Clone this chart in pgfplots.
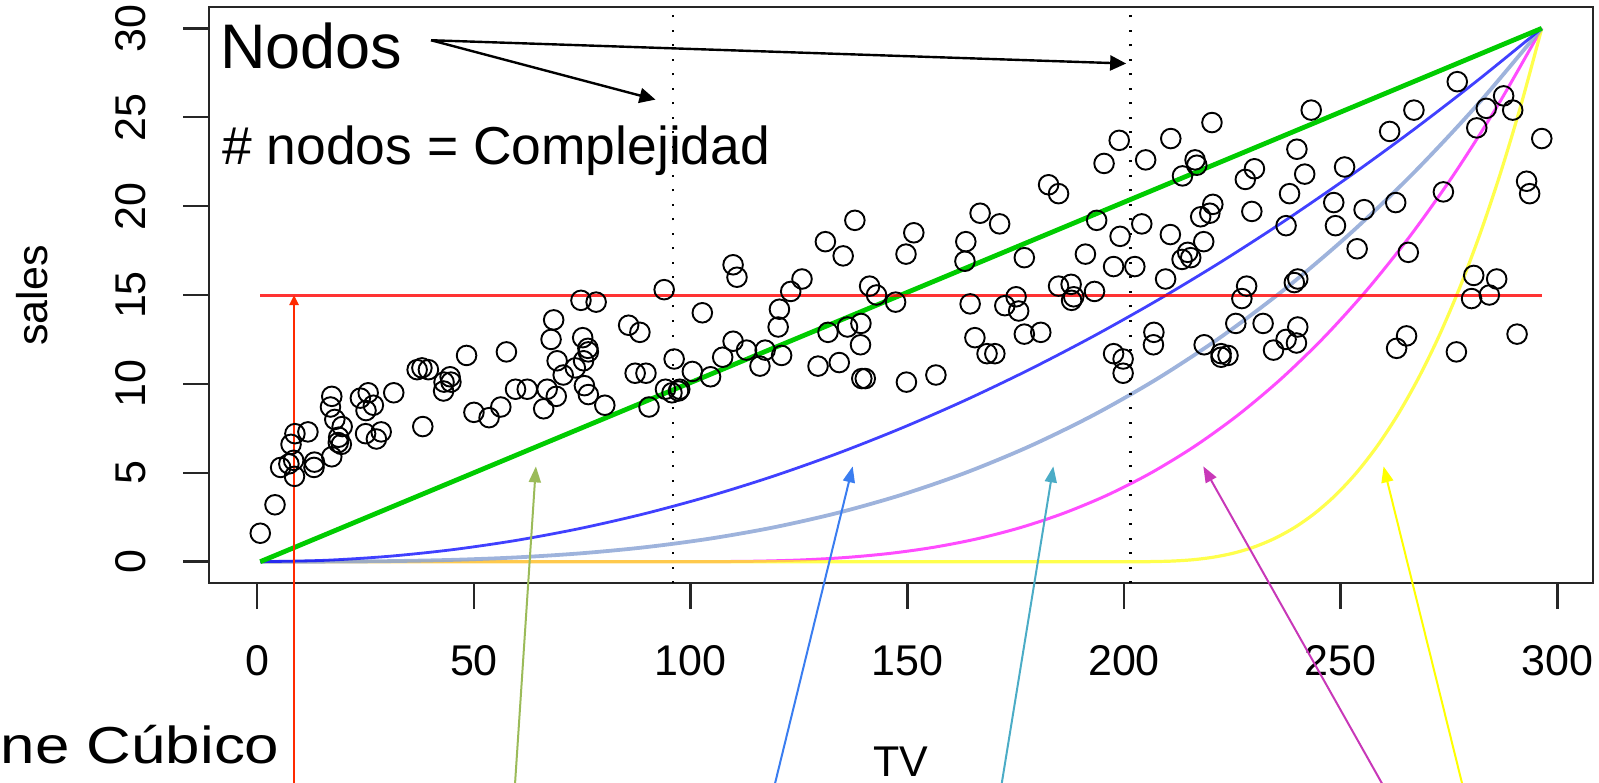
\documentclass[border=0pt]{standalone}
\usepackage{fontspec}
\setmainfont{Liberation Sans}
\usepackage{pgfplots}
\pgfplotsset{compat=1.18}
\usetikzlibrary{arrows.meta}
\definecolor{cgreen}{HTML}{00CC00}
\definecolor{cblue}{HTML}{0000FF}
\definecolor{clblue}{HTML}{8DA6D6}
\definecolor{cmag}{HTML}{FF00FF}
\definecolor{cyel}{HTML}{FFFF00}
\definecolor{cred}{HTML}{FF0000}
\definecolor{aolive}{HTML}{9BBB59}
\definecolor{ablue}{HTML}{3A7DF0}
\definecolor{acyan}{HTML}{4BACC6}
\definecolor{amag}{HTML}{C838B8}
\definecolor{ayel}{HTML}{FFFF00}
\definecolor{ared}{HTML}{FF2A00}
\begin{document}
\begin{tikzpicture}
\clip (0,0) rectangle (799.5pt,391pt);
\begin{axis}[
  at={(104.5pt,99.5pt)}, anchor=south west,
  scale only axis, width=692pt, height=288pt,
  xmin=-11.128, xmax=308.228, ymin=-1.2, ymax=31.2,
  xtick={0,50,...,300}, ytick={0,5,...,30},
  tick pos=left,
  tick align=outside, major tick length=13pt,
  axis line style={line width=1.2pt, black!85},
  every tick/.style={line width=1.2pt, black!85},
  clip=false,
  /pgf/number format/assume math mode=true,
  ticklabel style={font=\fontsize{21.5}{21.5}\selectfont, inner sep=0pt},
  xticklabel style={anchor=north, yshift=-18pt},
  yticklabel style={xshift=-19pt, anchor=base, rotate=90},
]
\addplot[only marks, black, mark=o, mark size=4.9pt, mark options={line width=0.95pt, black}] coordinates {
(230.1,22.1) (44.5,10.4) (17.2,9.3) (151.5,18.5) (180.8,12.9) (8.7,7.2) (57.5,11.8) (120.2,13.2) (8.6,4.8) (199.8,10.6)
(66.1,8.6) (214.7,17.4) (23.8,9.2) (97.5,9.7) (204.1,19.0) (195.4,22.4) (67.8,12.5) (281.4,24.4) (69.2,11.3) (147.3,14.6)
(218.4,18.0) (237.4,12.5) (13.2,5.6) (228.3,15.5) (62.3,9.7) (262.9,12.0) (142.9,15.0) (240.1,15.9) (248.8,18.9) (70.6,10.5)
(292.9,21.4) (112.9,11.9) (97.2,9.6) (265.6,17.4) (95.7,9.5) (290.7,12.8) (266.9,25.4) (74.7,14.7) (43.1,10.1) (228.0,21.5)
(202.5,16.6) (177.0,17.1) (293.6,20.7) (206.9,12.9) (25.1,8.5) (175.1,14.9) (89.7,10.6) (239.9,23.2) (227.2,14.8) (66.9,9.7)
(199.8,11.4) (100.4,10.7) (216.4,22.6) (182.6,21.2) (262.7,20.2) (198.9,23.7) (7.3,5.5) (136.2,13.2) (210.8,23.8) (210.7,18.4)
(53.5,8.1) (261.3,24.2) (239.3,15.7) (102.7,14.0) (131.1,18.0) (69.0,9.3) (31.5,9.5) (139.3,13.4) (237.4,18.9) (216.8,22.3)
(199.1,18.3) (109.8,12.4) (26.8,8.8) (129.4,11.0) (213.4,17.0) (16.9,8.7) (27.5,6.9) (120.5,14.2) (5.4,5.3) (116.0,11.0)
(76.4,11.8) (239.8,12.3) (75.3,11.3) (68.4,13.6) (213.5,21.7) (193.2,15.2) (76.3,12.0) (110.7,16.0) (88.3,12.9) (109.8,16.7)
(134.3,11.2) (28.6,7.3) (217.7,19.4) (250.9,22.2) (107.4,11.5) (163.3,16.9) (197.6,11.7) (184.9,15.5) (289.7,25.4) (135.2,17.2)
(222.4,11.7) (296.4,23.8) (280.2,14.8) (187.9,14.7) (238.2,20.7) (137.9,19.2) (25.0,7.2) (90.4,8.7) (13.1,5.3) (255.4,19.8)
(225.8,13.4) (241.7,21.8) (175.7,14.1) (209.6,15.9) (78.2,14.6) (75.1,12.6) (139.2,12.2) (76.4,9.4) (125.7,15.9) (19.4,6.6)
(141.3,15.5) (18.8,7.0) (224.0,11.6) (123.1,15.2) (229.5,19.7) (87.2,10.6) (7.8,6.6) (80.2,8.8) (220.3,24.7) (59.6,9.7)
(0.7,1.6) (265.2,12.7) (8.4,5.7) (219.8,19.6) (36.9,10.8) (48.3,11.6) (25.6,9.5) (273.7,20.8) (43.0,9.6) (184.9,20.7)
(73.4,10.9) (193.7,19.2) (220.5,20.1) (104.6,10.4) (96.2,11.4) (140.3,10.3) (240.1,13.2) (243.2,25.4) (38.0,10.9) (44.7,10.1)
(280.7,16.1) (121.0,11.6) (197.6,16.6) (171.3,19.0) (187.8,15.6) (4.1,3.2) (93.9,15.3) (149.8,10.1) (11.7,7.3) (131.7,12.9)
(172.5,14.4) (85.7,13.3) (188.4,14.9) (163.5,18.0) (117.2,11.9) (234.5,11.9) (17.9,8.0) (206.8,12.2) (215.4,17.1) (284.3,15.0)
(50.0,8.4) (164.5,14.5) (19.6,7.6) (168.4,11.7) (222.4,11.5) (276.9,27.0) (248.4,20.2) (170.2,11.7) (276.7,11.8) (165.6,12.6)
(156.6,10.5) (218.5,12.2) (56.2,8.7) (287.6,26.2) (253.8,17.6) (205.0,22.6) (139.5,10.3) (191.1,17.3) (286.0,15.9) (18.7,6.7)
(39.5,10.8) (75.5,9.9) (17.2,5.9) (166.8,19.6) (149.7,17.3) (38.2,7.6) (94.2,9.7) (177.0,12.8) (283.6,25.5) (232.1,13.4)
};
% magenta: basis starting at first knot
\addplot[cmag, line width=1.5pt, opacity=0.7, smooth] coordinates {
(0.7,0) (48,0) (96,0) (106.02,0.00375) (116.04,0.03) (126.06,0.10125) (136.08,0.24) (146.1,0.46875) (156.12,0.81)
(166.14,1.28625) (176.16,1.92) (186.18,2.73375) (196.2,3.75) (206.22,4.99125) (216.24,6.48) (226.26,8.23875)
(236.28,10.29) (246.3,12.65625) (256.32,15.36) (266.34,18.42375) (276.36,21.87) (286.38,25.72125) (296.4,30)};
% yellow: basis starting at second knot
\addplot[cyel, line width=1.6pt, opacity=0.7, smooth] coordinates {
(0.7,0) (50,0) (100,0) (150,0) (201.3,0) (206.055,0.00375) (210.81,0.03) (215.565,0.10125) (220.32,0.24) (225.075,0.46875)
(229.83,0.81) (234.585,1.28625) (239.34,1.92) (244.095,2.73375) (248.85,3.75) (253.605,4.99125) (258.36,6.48)
(263.115,8.23875) (267.87,10.29) (272.625,12.65625) (277.38,15.36) (282.135,18.42375) (286.89,21.87) (291.645,25.72125) (296.4,30)};
% light blue: cubic
\addplot[clblue, line width=1.9pt, opacity=0.85, smooth] coordinates {
(0.7,0) (15.485,0.00375) (30.27,0.03) (45.055,0.10125) (59.84,0.24) (74.625,0.46875) (89.41,0.81) (104.195,1.28625)
(118.98,1.92) (133.765,2.73375) (148.55,3.75) (163.335,4.99125) (178.12,6.48) (192.905,8.23875) (207.69,10.29)
(222.475,12.65625) (237.26,15.36) (252.045,18.42375) (266.83,21.87) (281.615,25.72125) (296.4,30)};
% blue: quadratic
\addplot[cblue, line width=1.4pt, opacity=0.75, smooth] coordinates {
(0.7,0) (15.485,0.075) (30.27,0.3) (45.055,0.675) (59.84,1.2) (74.625,1.875) (89.41,2.7) (104.195,3.675) (118.98,4.8)
(133.765,6.075) (148.55,7.5) (163.335,9.075) (178.12,10.8) (192.905,12.675) (207.69,14.7) (222.475,16.875)
(237.26,19.2) (252.045,21.675) (266.83,24.3) (281.615,27.075) (296.4,30)};
% green: linear
\addplot[cgreen, line width=2.4pt] coordinates {(0.7,0) (296.4,30)};
% red constant
\addplot[cred, line width=1.5pt, opacity=0.8] coordinates {(0.7,15) (296.4,15)};
% knots
\addplot[black, line width=1.1pt, dash pattern=on 1pt off 6.25pt] coordinates {(96.0,-1.2) (96.0,31.2)};
\addplot[black, line width=1.1pt, dash pattern=on 1pt off 6.25pt] coordinates {(201.5,-1.2) (201.5,31.2)};
% Nodos arrows
\draw[black, line width=1.2pt, -{Triangle[length=8pt,width=7.5pt]}] (axis cs:40.1,29.33) -- (axis cs:91.9,25.99);
\draw[black, line width=1.2pt, -{Triangle[length=8pt,width=7.5pt]}] (axis cs:40.1,29.33) -- (axis cs:200.5,28.02);
% bottom arrows
\draw[aolive, line width=1pt, -{Triangle[length=8pt,width=6pt]}] (axis cs:59.35,-13) -- (axis cs:64.3,5.36);
\draw[ablue, line width=1pt, -{Triangle[length=8pt,width=6pt]}] (axis cs:118.95,-13) -- (axis cs:137.4,5.36);
\draw[acyan, line width=1pt, -{Triangle[length=8pt,width=6pt]}] (axis cs:171.44,-13) -- (axis cs:183.7,5.36);
\draw[amag, line width=1pt, -{Triangle[length=8pt,width=6pt]}] (axis cs:260.75,-13) -- (axis cs:218.3,5.36);
\draw[ayel, line width=1pt, -{Triangle[length=8pt,width=6pt]}] (axis cs:278.55,-13) -- (axis cs:259.9,5.36);
\draw[ared, line width=1.1pt, -{Triangle[length=5pt,width=4.5pt]}] (axis cs:8.5,-13) -- (axis cs:8.5,15);
\end{axis}
\node[anchor=base west, inner sep=0pt, font=\fontsize{31.5}{31.5}\selectfont] at (110pt,356.5pt) {Nodos};
\node[anchor=base west, inner sep=0pt, font=\fontsize{26.7}{26.7}\selectfont] at (111pt,308.5pt) {\# nodos = Complejidad};
\node[anchor=base east, inner sep=0pt, xscale=1.19, font=\fontsize{26}{26}\selectfont] at (140pt,9.5pt) {ne Cúbico};
\node[anchor=base, inner sep=0pt, rotate=90, font=\fontsize{21.5}{21.5}\selectfont] at (24pt,243.25pt) {sales};
\node[anchor=base, inner sep=0pt, font=\fontsize{21.5}{21.5}\selectfont] at (450.5pt,3pt) {TV};
\end{tikzpicture}
\end{document}
